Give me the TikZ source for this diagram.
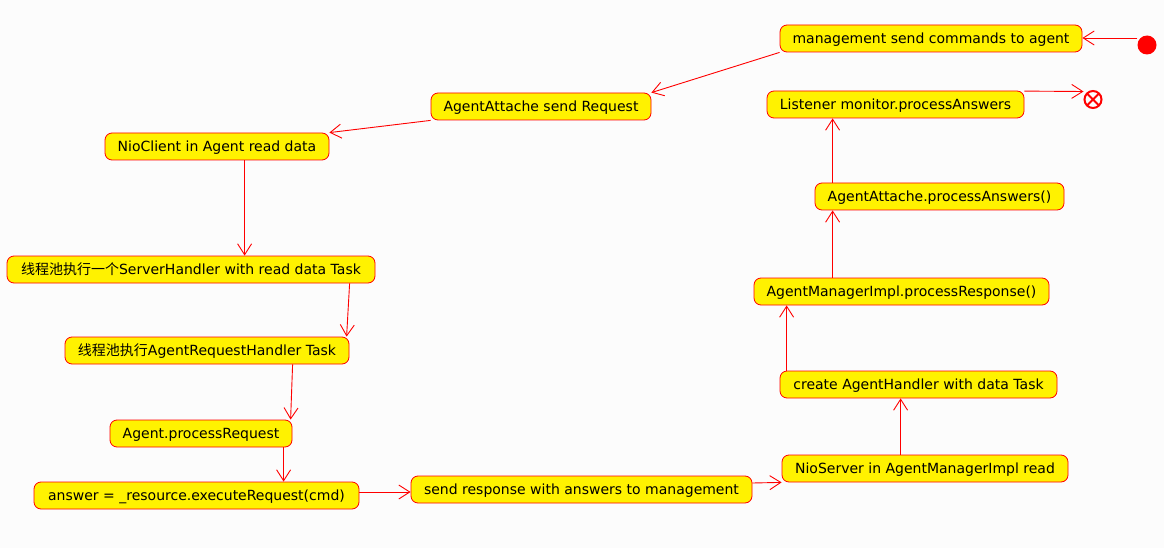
\documentclass[tikz,border=0pt]{standalone}
\usepackage{fontspec}
\setmainfont{DejaVu Sans}
\newfontfamily\cjk{Noto Sans CJK SC}
\usetikzlibrary{arrows.meta,calc}
\definecolor{bg}{RGB}{252,252,252}
\definecolor{lr}{RGB}{255,0,0}
\begin{document}
\begin{tikzpicture}[x=1pt,y=-1pt,
  act/.style={draw=lr,fill=yellow,rounded corners=7pt,line width=0.8pt,inner sep=0pt,
    minimum height=27pt,text height=13pt,text depth=3.4pt,font=\fontsize{14}{16}\selectfont,text=black},
  flow/.style={draw=lr,line width=0.9pt,-{Straight Barb[length=11pt,width=14pt,line width=0.9pt]}}]
\fill[bg] (0,0) rectangle (1164,548);
\useasboundingbox (0,0) rectangle (1164,548);

\node[act,minimum width=302pt] (n1) at (931,38.5) {management send commands to agent};
\node[act,minimum width=220pt] (n2) at (541,106.5) {AgentAttache send Request};
\node[act,minimum width=224pt] (n3) at (217,146.5) {NioClient in Agent read data};
\node[act,minimum width=368pt] (n4) at (191,269.5) {{\cjk 线程池执行一个}ServerHandler with read data Task};
\node[act,minimum width=284pt] (n5) at (207,350.5) {{\cjk 线程池执行}AgentRequestHandler Task};
\node[act,minimum width=182pt] (n6) at (201,433.5) {Agent.processRequest};
\node[act,minimum width=325pt] (n7) at (196.5,495.5) {answer = \_resource.executeRequest(cmd)};
\node[act,minimum width=341pt] (n8) at (581.5,489.5) {send response with answers to management};
\node[act,minimum width=286pt] (n9) at (925,468.5) {NioServer in AgentManagerImpl read};
\node[act,minimum width=277pt] (n10) at (918.5,384.5) {create AgentHandler with data Task};
\node[act,minimum width=295pt] (n11) at (901.5,291.5) {AgentManagerImpl.processResponse()};
\node[act,minimum width=249pt] (n12) at (939.5,196.5) {AgentAttache.processAnswers()};
\node[act,minimum width=257pt] (n13) at (895.5,104.5) {Listener monitor.processAnswers};

\node[circle,fill=lr,inner sep=0pt,minimum size=19pt] (start) at (1147,45) {};
\node[circle,draw=lr,line width=2pt,inner sep=0pt,minimum size=17pt] (end) at (1093,99.5) {};
\draw[lr,line width=2pt] ($(end.center)+(-5.6,-5.6)$) -- ($(end.center)+(5.6,5.6)$)
  ($(end.center)+(-5.6,5.6)$) -- ($(end.center)+(5.6,-5.6)$);

\draw[flow] ([yshift=7pt]start.west) -- ([yshift=0.5pt]n1.east);
\draw[flow] (n1.south west) -- (n2.north east);
\draw[flow] (n2.south west) -- (n3.north east);
\draw[flow] ([xshift=140pt]n3.south west) -- ([xshift=238pt]n4.north west);
\draw[flow] ([xshift=343pt]n4.south west) -- ([xshift=282pt]n5.north west);
\draw[flow] ([xshift=228pt]n5.south west) -- ([xshift=181pt]n6.north west);
\draw[flow] ([xshift=174pt]n6.south west) -- ([xshift=250pt]n7.north west);
\draw[flow] ([yshift=3.5pt]n7.east) -- ([yshift=-2.5pt]n8.west);
\draw[flow] ([yshift=6.5pt]n8.east) -- (n9.south west);
\draw[flow] ([xshift=119pt]n9.north west) -- ([xshift=121pt]n10.south west);
\draw[flow] ([xshift=7pt]n10.north west) -- ([xshift=33pt]n11.south west);
\draw[flow] ([xshift=79pt]n11.north west) -- ([xshift=18pt]n12.south west);
\draw[flow] ([xshift=18pt]n12.north west) -- ([xshift=66pt]n13.south west);
\draw[flow] ([yshift=-0.5pt]n13.north east) -- ([yshift=8pt]end.west);
\end{tikzpicture}
\end{document}
